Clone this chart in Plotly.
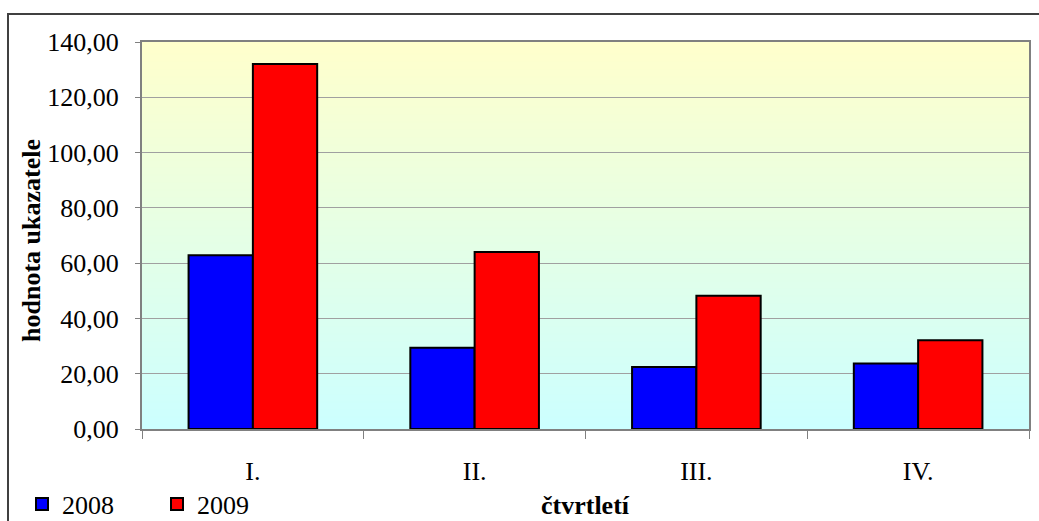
import base64
import struct
import zlib

import plotly.graph_objects as go

# Quarterly indicator values
quarters = ["I.", "II.", "III.", "IV."]
values_2008 = [62.9, 29.4, 22.4, 23.7]
values_2009 = [132.0, 64.0, 48.2, 32.1]
series_names = ["2008", "2009"]
y_ticks = [0, 20, 40, 60, 80, 100, 120, 140]

FONT = "'Liberation Serif', 'Times New Roman', Times, serif"
W, H = 1039, 521
M_L, M_R, M_T, M_B = 142, 10, 42, 92
PLOT_W = W - M_L - M_R
PLOT_H = H - M_T - M_B


def gradient_png(top, bottom, n=256, width=4):
    """Small vertical gradient PNG used as the plot-area background."""
    raw = b""
    for i in range(n):
        t = i / (n - 1)
        c = bytes(round(top[k] + (bottom[k] - top[k]) * t) for k in range(3))
        raw += b"\x00" + c * width

    def chunk(tag, data):
        return (struct.pack(">I", len(data)) + tag + data
                + struct.pack(">I", zlib.crc32(tag + data) & 0xFFFFFFFF))

    ihdr = struct.pack(">IIBBBBB", width, n, 8, 2, 0, 0, 0)
    png = (b"\x89PNG\r\n\x1a\n" + chunk(b"IHDR", ihdr)
           + chunk(b"IDAT", zlib.compress(raw)) + chunk(b"IEND", b""))
    return "data:image/png;base64," + base64.b64encode(png).decode()


def px_x(p):
    return (p - M_L) / PLOT_W


def px_y(p):
    return (M_T + PLOT_H - p) / PLOT_H


fig = go.Figure()
fig.add_trace(go.Bar(
    x=quarters, y=values_2008, name=series_names[0],
    marker=dict(color="#0000FF", line=dict(color="#000000", width=2)),
))
fig.add_trace(go.Bar(
    x=quarters, y=values_2009, name=series_names[1],
    marker=dict(color="#FF0000", line=dict(color="#000000", width=2)),
))

fig.update_layout(
    width=W, height=H,
    margin=dict(l=M_L, r=M_R, t=M_T, b=M_B, autoexpand=False),
    paper_bgcolor="#FFFFFF",
    plot_bgcolor="rgba(0,0,0,0)",
    separators=", ",
    barmode="group",
    bargap=0.42,
    bargroupgap=0,
    font=dict(family=FONT, size=26, color="#000000"),
    showlegend=True,
    legend=dict(
        orientation="h",
        x=px_x(22), xanchor="left",
        y=px_y(504), yanchor="middle",
        bgcolor="rgba(0,0,0,0)",
        font=dict(family=FONT, size=26),
        entrywidth=90,
        itemsizing="constant",
    ),
    images=[dict(
        source=gradient_png((255, 255, 204), (204, 255, 255)),
        xref="paper", yref="paper", x=0, y=1, sizex=1, sizey=1,
        xanchor="left", yanchor="top", sizing="stretch", layer="below",
    )],
    annotations=[
        dict(text="<b>hodnota ukazatele</b>", textangle=-90,
             xref="paper", yref="paper", x=px_x(31), y=px_y(240),
             xanchor="center", yanchor="middle", showarrow=False,
             font=dict(family=FONT, size=26)),
        dict(text="<b>čtvrtletí</b>",
             xref="paper", yref="paper", x=0.5, y=px_y(505),
             xanchor="center", yanchor="middle", showarrow=False,
             font=dict(family=FONT, size=26)),
    ],
    shapes=[
        # outer chart frame (left and top edges)
        dict(type="path", xref="paper", yref="paper",
             path=f"M {px_x(8)} {px_y(H + 5)} L {px_x(8)} {px_y(14)} L {px_x(W + 5)} {px_y(14)}",
             line=dict(color="#404040", width=2), layer="above"),
    ],
)

fig.update_xaxes(
    type="category",
    showline=True, linecolor="#808080", linewidth=2, mirror=True,
    ticks="outside", tickson="boundaries", ticklen=8, tickcolor="#808080", tickwidth=1,
    ticklabelstandoff=18,
    tickfont=dict(family=FONT, size=26),
    showgrid=False,
)
fig.update_yaxes(
    range=[0, 140], tickvals=y_ticks, tickformat=".2f",
    showline=True, linecolor="#808080", linewidth=2, mirror=True,
    ticks="outside", ticklen=5, tickcolor="#808080", tickwidth=1,
    ticklabelstandoff=11,
    tickfont=dict(family=FONT, size=26),
    showgrid=True, gridcolor="#A0A0A0", gridwidth=1,
    zeroline=False,
)

fig.write_html("out.html")
